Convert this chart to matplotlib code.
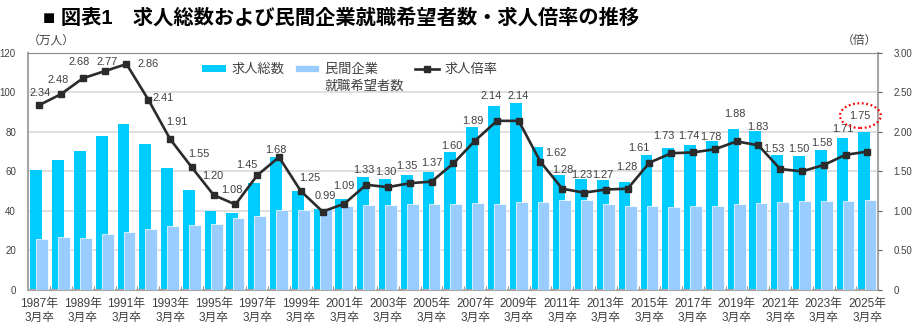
import numpy as np
import matplotlib
matplotlib.use("Agg")
import matplotlib.pyplot as plt
from matplotlib.ticker import FixedLocator

plt.rcParams['font.family'] = ['Liberation Sans', 'Noto Sans CJK JP', 'DejaVu Sans']

# graduating classes (March), 1987-2025
years = list(range(1987, 2026))
# job openings, 10k people
total_jobs = [60.8, 65.6, 70.4, 78.0, 84.0, 73.8, 61.7, 50.7, 40.0, 39.1,
              54.2, 67.5, 50.2, 40.8, 46.2, 57.3, 56.0, 58.4, 59.7, 69.9,
              82.5, 93.3, 94.8, 72.5, 58.1, 56.0, 55.4, 54.4, 68.4, 71.9,
              73.4, 75.5, 81.4, 80.6, 68.2, 67.6, 70.9, 77.1, 79.7]
# students seeking private-sector jobs, 10k people
job_seekers = [25.9, 26.5, 26.3, 28.1, 29.4, 30.6, 32.3, 32.7, 33.3, 36.2,
               37.4, 40.3, 40.4, 41.2, 42.2, 43.0, 43.1, 43.3, 43.5, 43.6,
               43.8, 43.7, 44.3, 44.7, 45.6, 45.5, 43.5, 42.3, 42.3, 41.7,
               42.2, 42.3, 43.2, 44.1, 44.7, 45.0, 44.9, 45.1, 45.5]
# openings-to-applicants ratio
job_ratio = [2.34, 2.48, 2.68, 2.77, 2.86, 2.41, 1.91, 1.55, 1.20, 1.08,
             1.45, 1.68, 1.25, 0.99, 1.09, 1.33, 1.30, 1.35, 1.37, 1.60,
             1.89, 2.14, 2.14, 1.62, 1.28, 1.23, 1.27, 1.28, 1.61, 1.73,
             1.74, 1.78, 1.88, 1.83, 1.53, 1.50, 1.58, 1.71, 1.75]

# label nudges (pixels) so the numbers sit clear of the line
label_dx = [1, -3, -4, 2, 22, 15, 7, 7, -1, -4, -10, -3, 9, 3, -1, -2, -2, -3, 0, -1,
            -2, -6, -1, 15, 1, -2, -3, -1, -11, -7, -4, -4, -2, -1, -6, -3, -2, -3, -7]
label_dy = [12, 14, 16, 9, 0, 2, 17, 13, 19, 14, 10, 7, 13, 16, 18, 15, 15, 17, 19, 17,
            20, 25, 25, 9, 19, 18, 15, 22, 15, 17, 16, 12, 27, 18, 20, 22, 22, 26, 36]

C_JOBS = '#00CCFF'
C_SEEK = '#99CCFF'
C_LINE = '#2B2B2B'
C_TEXT = '#404040'

x = np.arange(len(years))

fig = plt.figure(figsize=(9.23, 3.34), dpi=100)
ax = fig.add_axes([0.0308, 0.1326, 0.9207, 0.7087])
ax2 = ax.twinx()

ax.bar(x - 0.14, total_jobs, width=0.54, color=C_JOBS, zorder=2, label='求人総数')
ax.bar(x + 0.14, job_seekers, width=0.54, color=C_SEEK, edgecolor='white',
       linewidth=0.5, zorder=3, label='民間企業')

ax.set_xlim(-0.5, len(years) - 0.5)
ax.set_ylim(0, 120)
ax.set_yticks(np.arange(0, 121, 20))
ax.grid(axis='y', color='#D9D9D9', linewidth=1.2, zorder=0)
ax.set_axisbelow(True)

ax.set_xticks(x[::2])
ax.set_xticklabels([f'{y}年\n3月卒' for y in years[::2]], fontsize=8.5,
                   color=C_TEXT, linespacing=1.25)
ax.xaxis.set_minor_locator(FixedLocator(np.arange(0.5, len(years) - 1, 1)))
ax.tick_params(axis='x', which='major', length=0, pad=6)
ax.tick_params(axis='x', which='minor', length=3, direction='in', color='#808080')
ax.tick_params(axis='y', length=0, labelsize=7, labelcolor=C_TEXT, pad=9)

for side in ['left', 'right', 'bottom']:
    ax.spines[side].set_color('#A6A6A6')
    ax.spines[side].set_linewidth(1.5)
ax.spines['top'].set_color('#8C8C8C')
ax.spines['top'].set_linewidth(0.8)

ax2.plot(x, job_ratio, color=C_LINE, linewidth=1.9, marker='s', markersize=3.8,
         label='求人倍率', zorder=5)
ax2.set_ylim(0, 3.0)
ax2.set_yticks(np.arange(0, 3.01, 0.5))
ax2.set_yticklabels(['0'] + [f'{v:.2f}' for v in np.arange(0.5, 3.01, 0.5)])
ax2.tick_params(axis='y', length=3, color='#595959', labelsize=7,
                labelcolor=C_TEXT, pad=8)
for side in ['left', 'right', 'bottom', 'top']:
    ax2.spines[side].set_visible(False)

for i, v in enumerate(job_ratio):
    kw = {}
    if i == len(job_ratio) - 1:
        kw['bbox'] = dict(boxstyle='ellipse,pad=0.34', fc='none', ec='#FF0000',
                          linestyle=(0, (0.8, 1.2)), linewidth=1.6)
    ax2.annotate(f'{v:.2f}', (x[i], v), xytext=(label_dx[i], label_dy[i]),
                 textcoords='offset pixels', ha='center', va='center',
                 fontsize=7.9, color=C_TEXT, zorder=6, **kw)

# unit captions above each axis
fig.text(28 / 923, 1 - 41 / 334, '（万人）', fontsize=8.5, color=C_TEXT,
         va='center', ha='left')
fig.text(877 / 923, 1 - 41 / 334, '（倍）', fontsize=8.5, color=C_TEXT,
         va='center', ha='right')

fig.text(43 / 923, 1 - 19 / 334,
         '■ 図表1　求人総数および民間企業就職希望者数・求人倍率の推移',
         fontsize=14.6, fontweight='bold', color='black', va='center', ha='left')

h1, l1 = ax.get_legend_handles_labels()
h2, l2 = ax2.get_legend_handles_labels()
leg = fig.legend(h1 + h2, l1 + l2, loc='upper left',
                 bbox_to_anchor=(202 / 923, 1 - 64 / 334), ncol=3, frameon=False,
                 fontsize=9.5, handlelength=1.8, handleheight=0.45,
                 handletextpad=0.45, columnspacing=0.8, borderaxespad=0,
                 borderpad=0)
for t in leg.get_texts():
    t.set_color(C_TEXT)
# the seeker entry wraps onto a second line under its first line
leg.get_texts()[1].set_text('民間企業\u3000\u3000')
fig.canvas.draw()
bb = leg.get_texts()[1].get_window_extent()
W, H = fig.bbox.width, fig.bbox.height
fig.text(bb.x0 / W, (bb.y0 + bb.y1) / 2 / H - 16 / H, '就職希望者数',
         fontsize=9.5, color=C_TEXT, ha='left', va='center')

fig.savefig('out.png', dpi=100)
